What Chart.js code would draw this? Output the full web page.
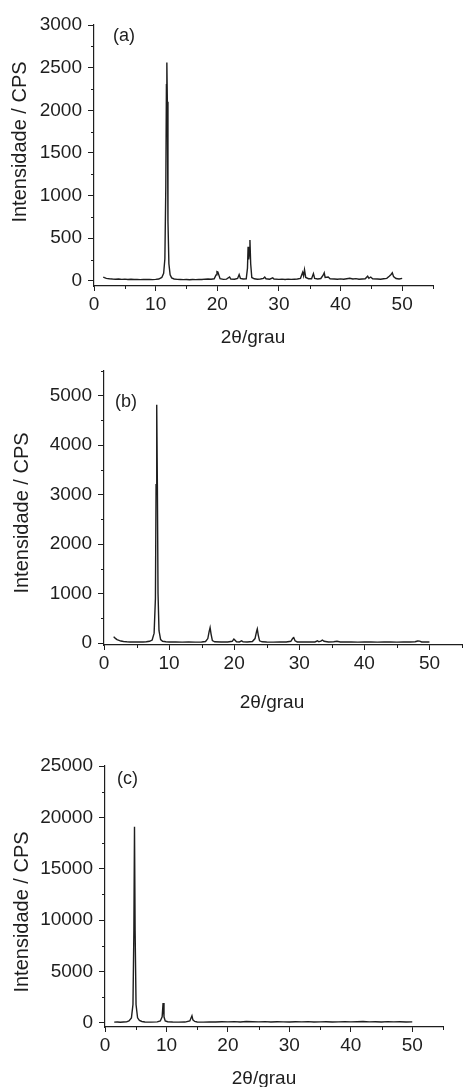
<!DOCTYPE html>
<html>
<head>
<meta charset="utf-8">
<script src="https://cdn.jsdelivr.net/npm/chart.js@4"></script>
<style>
  body { margin: 0; background: #fff; width: 463px; height: 1087px; position: relative; overflow: hidden; }
  canvas { position: absolute; left: 0; }
</style>
</head>
<body>
<canvas id="ca" width="463" height="350" style="top:0px"></canvas>
<canvas id="cb" width="463" height="370" style="top:350px"></canvas>
<canvas id="cc" width="463" height="367" style="top:720px"></canvas>
<script>
// tick labels
var ticksX = [0, 10, 20, 30, 40, 50];
var minorX = [5, 15, 25, 35, 45, 55];
var ticksYA = [0, 500, 1000, 1500, 2000, 2500, 3000];
var minorYA = [250, 750, 1250, 1750, 2250, 2750];
var ticksYB = [0, 1000, 2000, 3000, 4000, 5000];
var minorYB = [500, 1500, 2500, 3500, 4500, 5500];
var ticksYC = [0, 5000, 10000, 15000, 20000, 25000];
var minorYC = [2500, 7500, 12500, 17500, 22500];

// (a) 2theta / counts
var angleA = [1.5, 1.7, 2.0, 2.5, 3.0, 3.5, 4.0, 4.5, 5.0, 5.5, 6.0, 6.5, 7.0, 7.5, 8.0, 8.5, 9.0, 9.5, 10.0, 10.5,
  11.0, 11.3, 11.5, 11.65, 11.75, 11.82, 11.9, 12.0, 12.15, 12.35, 12.6, 13.0, 13.5, 14.0, 14.5, 15.0, 15.5, 16.0,
  16.5, 17.0, 17.5, 18.0, 18.5, 19.0, 19.5, 19.8, 19.95, 20.1, 20.25, 20.45, 21.0, 21.5, 22.0, 22.2, 22.8, 23.3,
  23.55, 23.75, 24.2, 24.7, 24.9, 25.0, 25.1, 25.2, 25.3, 25.42, 25.6, 26.0, 26.5, 27.0, 27.5, 27.7, 27.9, 28.5,
  29.0, 29.2, 30.0, 30.5, 31.0, 31.5, 32.0, 32.5, 33.0, 33.5, 33.85, 34.0, 34.15, 34.35, 34.8, 35.3, 35.6, 35.8,
  36.3, 36.8, 37.2, 37.35, 37.5, 38.0, 38.3, 39.0, 39.5, 40.0, 40.5, 41.0, 41.5, 42.0, 42.5, 43.0, 43.5, 44.0,
  44.4, 44.6, 44.9, 45.2, 46.0, 46.5, 47.0, 47.5, 47.9, 48.2, 48.4, 48.6, 49.0, 49.5, 50.0];
var countA = [45, 38, 30, 25, 22, 20, 22, 18, 20, 17, 19, 16, 18, 15, 18, 16, 17, 15, 18, 22,
  40, 90, 260, 1100, 2300, 2560, 2100, 700, 200, 70, 35, 22, 18, 17, 15, 16, 14, 16,
  15, 18, 16, 20, 22, 20, 25, 70, 110, 105, 70, 25, 18, 20, 45, 22, 20, 28,
  75, 30, 22, 25, 150, 400, 250, 330, 480, 200, 40, 25, 20, 22, 30, 45, 25, 20,
  35, 22, 18, 20, 17, 20, 18, 20, 22, 30, 100, 60, 130, 40, 25, 25, 85, 30,
  22, 28, 70, 95, 40, 45, 25, 22, 20, 24, 20, 25, 30, 22, 26, 20, 22, 24,
  55, 30, 45, 25, 22, 20, 25, 30, 55, 75, 95, 50, 28, 22, 30];

// (b)
var angleB = [1.5, 1.6, 1.8, 2.0, 2.3, 2.6, 3.0, 3.5, 4.0, 4.5, 5.0, 5.5, 6.0, 6.5, 7.0, 7.4, 7.7, 7.9, 8.0, 8.1,
  8.2, 8.3, 8.45, 8.7, 9.0, 9.5, 10.0, 11.0, 12.0, 13.0, 14.0, 15.0, 15.6, 15.95, 16.15, 16.3, 16.45, 16.65,
  17.0, 18.0, 19.0, 19.7, 19.95, 20.1, 20.35, 20.8, 21.15, 21.35, 22.0, 22.8, 23.2, 23.45, 23.55, 23.7, 23.9,
  24.3, 25.0, 26.0, 27.0, 28.0, 28.7, 29.0, 29.15, 29.35, 29.7, 30.5, 31.5, 32.4, 32.8, 33.0, 33.3, 33.55, 33.8,
  34.5, 35.3, 35.8, 36.3, 37.0, 38.0, 39.0, 40.0, 41.0, 42.0, 43.0, 44.0, 45.0, 46.0, 47.0, 47.8, 48.2, 48.5,
  48.8, 49.5, 50.0];
var countB = [130, 110, 90, 70, 55, 40, 30, 25, 22, 20, 22, 20, 22, 25, 35, 60, 200, 900, 3200, 4820,
  3200, 1000, 250, 70, 35, 25, 22, 20, 18, 20, 18, 20, 30, 90, 230, 310, 180, 50,
  25, 20, 22, 35, 80, 60, 25, 22, 45, 25, 20, 30, 90, 240, 285, 160, 45,
  25, 20, 18, 20, 22, 35, 95, 110, 45, 22, 20, 22, 22, 45, 25, 40, 60, 35,
  22, 25, 35, 22, 20, 22, 18, 20, 22, 18, 20, 22, 18, 22, 20, 25, 40, 38,
  22, 20, 20];

// (c)
var angleC = [1.5, 2.0, 2.5, 3.0, 3.5, 3.9, 4.3, 4.55, 4.7, 4.8, 4.9, 5.05, 5.3, 5.6, 6.0, 6.5, 7.5, 8.5, 9.0, 9.3,
  9.45, 9.6, 9.8, 10.2, 11.0, 12.0, 13.0, 13.8, 14.15, 14.3, 14.6, 15.0, 16.0, 17.0, 18.0, 19.0, 20.0, 21.0,
  22.0, 23.0, 24.0, 25.0, 26.0, 27.0, 28.0, 29.0, 30.0, 31.0, 32.0, 33.0, 34.0, 35.0, 36.0, 37.0, 38.0, 39.0,
  40.0, 41.0, 42.0, 43.0, 44.0, 45.0, 46.0, 47.0, 48.0, 49.0, 50.0];
var countC = [80, 90, 70, 90, 110, 200, 500, 1800, 9000, 19100, 9000, 1800, 500, 250, 150, 100, 80, 110, 200, 600,
  1950, 600, 200, 120, 90, 80, 90, 200, 700, 300, 150, 100, 80, 90, 100, 120, 110, 130,
  100, 140, 120, 110, 130, 100, 120, 110, 100, 120, 110, 130, 100, 110, 120, 100, 110, 130,
  110, 120, 140, 110, 120, 100, 130, 110, 120, 100, 110];

var ink = '#1e1e1e';
var family = "'Liberation Sans', Arial, sans-serif";

var decor = {
  id: 'decor',
  afterDraw(chart, args, o) {
    var ctx = chart.ctx;
    var xs = chart.scales.x, ys = chart.scales.y;
    ctx.save();
    ctx.strokeStyle = ink;
    ctx.lineWidth = 1;
    ctx.beginPath();
    o.minorX.forEach(function (v) {
      var px = Math.round(xs.getPixelForValue(v)) + 0.5;
      ctx.moveTo(px, xs.top);
      ctx.lineTo(px, xs.top + 3);
    });
    o.minorY.forEach(function (v) {
      var py = Math.round(ys.getPixelForValue(v)) + 0.5;
      ctx.moveTo(ys.right, py);
      ctx.lineTo(ys.right - 3, py);
    });
    ctx.stroke();
    ctx.fillStyle = ink;
    ctx.font = '18px ' + family;
    ctx.textAlign = 'left';
    ctx.textBaseline = 'middle';
    ctx.fillText(o.label, o.labelX, o.labelY);
    ctx.font = '19px ' + family;
    ctx.textAlign = 'center';
    ctx.fillText('2θ/grau', o.xTitleX, o.xTitleY);
    ctx.translate(o.yTitleX, o.yTitleY);
    ctx.rotate(-Math.PI / 2);
    ctx.font = '20px ' + family;
    ctx.fillText('Intensidade / CPS', 0, 0);
    ctx.restore();
  }
};

function plain(v) { return String(v); }

function makePanel(id, angles, counts, yMin, yMax, yTicks, yMinor, lay) {
  var pts = angles.map(function (a, i) { return { x: a, y: counts[i] }; });
  new Chart(document.getElementById(id), {
    type: 'line',
    data: {
      datasets: [{
        data: pts,
        borderColor: ink,
        borderWidth: 1.4,
        pointRadius: 0,
        tension: 0,
        fill: false
      }]
    },
    options: {
      responsive: false,
      animation: false,
      events: [],
      layout: { padding: { top: lay.top, right: lay.right, left: 0, bottom: 0 } },
      plugins: {
        legend: { display: false },
        tooltip: { enabled: false },
        decor: {
          label: lay.label, labelX: lay.labelX, labelY: lay.labelY,
          xTitleX: lay.xTitleX, xTitleY: lay.xTitleY,
          yTitleX: lay.yTitleX, yTitleY: lay.yTitleY,
          minorX: minorX, minorY: yMinor
        }
      },
      scales: {
        x: {
          type: 'linear',
          min: 0, max: 55,
          afterBuildTicks: function (s) { s.ticks = ticksX.map(function (v) { return { value: v }; }); },
          afterFit: function (s) { s.height = lay.xHeight; },
          grid: { display: true, drawOnChartArea: false, drawTicks: true, tickLength: 5, color: ink, lineWidth: 1 },
          border: { display: true, color: ink, width: 1.2 },
          ticks: { color: ink, font: { family: family, size: 19 }, padding: 2, maxRotation: 0, autoSkip: false, callback: plain }
        },
        y: {
          type: 'linear',
          min: yMin, max: yMax,
          afterBuildTicks: function (s) { s.ticks = yTicks.map(function (v) { return { value: v }; }); },
          afterFit: function (s) { s.width = lay.yWidth; },
          grid: { display: true, drawOnChartArea: false, drawTicks: true, tickLength: 6, color: ink, lineWidth: 1 },
          border: { display: true, color: ink, width: 1.2 },
          ticks: { color: ink, font: { family: family, size: 19 }, padding: 6, autoSkip: false, callback: plain }
        }
      }
    },
    plugins: [decor]
  });
}

makePanel('ca', angleA, countA, -60, 3000, ticksYA, minorYA, {
  top: 25, right: 30, xHeight: 64, yWidth: 94,
  label: '(a)', labelX: 113, labelY: 36,
  xTitleX: 253, xTitleY: 338, yTitleX: 20, yTitleY: 142
});
makePanel('cb', angleB, countB, -40, 5500, ticksYB, minorYB, {
  top: 21, right: 1, xHeight: 75, yWidth: 104,
  label: '(b)', labelX: 115, labelY: 52,
  xTitleX: 272, xTitleY: 353, yTitleX: 22, yTitleY: 163
});
makePanel('cc', angleC, countC, -390, 25000, ticksYC, minorYC, {
  top: 46, right: 20, xHeight: 60, yWidth: 105,
  label: '(c)', labelX: 117, labelY: 59,
  xTitleX: 264, xTitleY: 359, yTitleX: 22, yTitleY: 192
});
</script>
</body>
</html>
